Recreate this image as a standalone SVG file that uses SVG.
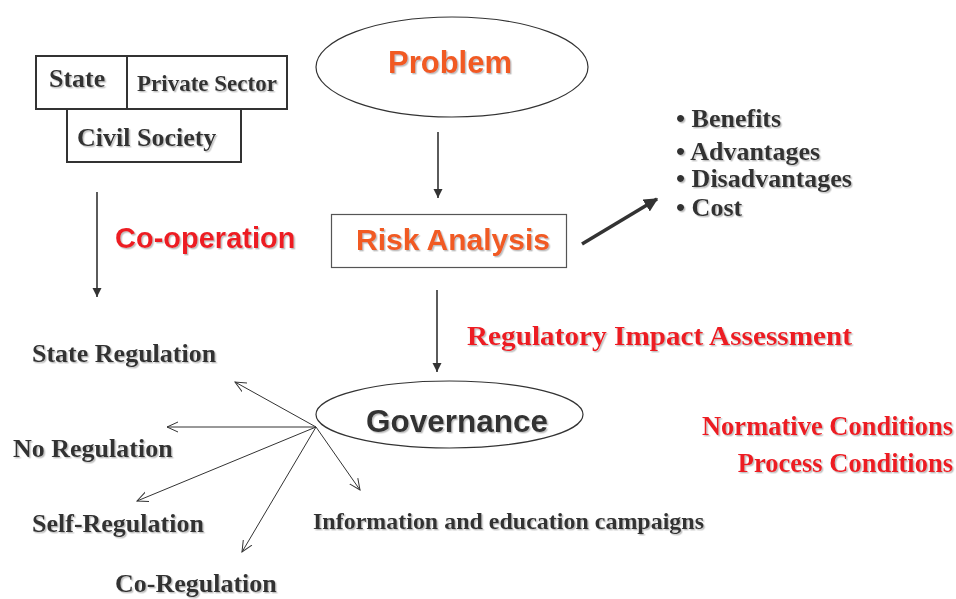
<svg xmlns="http://www.w3.org/2000/svg" width="956" height="599" viewBox="0 0 956 599">
<style>
.serif{font-family:"Liberation Serif","Times New Roman",serif;font-weight:bold;}
.sans{font-family:"Liberation Sans",Arial,sans-serif;font-weight:bold;}
.dark{fill:#333333;}
.red{fill:#ED1C24;}
.orange{fill:#F15A22;}
.sh{filter:url(#shadow);}
.box{fill:#ffffff;stroke:#333333;stroke-width:2;}
.ell{fill:#ffffff;stroke:#333333;stroke-width:1.2;}
.line{stroke:#333333;stroke-width:1.6;fill:none;}
.thin{stroke:#333333;stroke-width:1;fill:none;}
</style>
<defs>
<filter id="shadow" x="-5%" y="-20%" width="110%" height="150%">
<feDropShadow dx="1.4" dy="1.4" stdDeviation="0.5" flood-color="#aaaaaa" flood-opacity="0.75"/>
</filter>
<marker id="solid" viewBox="0 0 10 10" refX="10" refY="5" markerWidth="9" markerHeight="11" markerUnits="userSpaceOnUse" orient="auto">
<path d="M0,0 L10,5 L0,10 Z" fill="#333333"/>
</marker>
<marker id="thick" viewBox="0 0 10 10" refX="9" refY="5" markerWidth="14" markerHeight="14" markerUnits="userSpaceOnUse" orient="auto">
<path d="M0,0 L10,5 L0,10 Z" fill="#333333"/>
</marker>
<marker id="open" viewBox="0 0 12 12" refX="11" refY="6" markerWidth="12" markerHeight="12" markerUnits="userSpaceOnUse" orient="auto">
<path d="M0,1 L11,6 L0,11" fill="none" stroke="#333333" stroke-width="1"/>
</marker>
</defs>

<g id="actors">
<rect class="box" x="36" y="56" width="91" height="53"/>
<rect class="box" x="127" y="56" width="160" height="53"/>
<rect class="box" x="67" y="109" width="174" height="53"/>
<text class="serif dark sh" x="49" y="87" font-size="26">State</text>
<text class="serif dark sh" x="137" y="91" font-size="23">Private Sector</text>
<text class="serif dark sh" x="77" y="146" font-size="26">Civil Society</text>
</g>

<g id="problem">
<ellipse class="ell" cx="452" cy="67" rx="136" ry="50"/>
<text class="sans orange sh" x="450" y="73" font-size="31" text-anchor="middle">Problem</text>
</g>

<g id="risk-analysis">
<rect x="331.5" y="214.5" width="235" height="53" fill="#ffffff" stroke="#555555" stroke-width="1.2"/>
<text class="sans orange sh" x="453" y="250" font-size="30" text-anchor="middle">Risk Analysis</text>
</g>

<g id="criteria">
<text class="serif dark sh" x="676" y="127" font-size="26">• Benefits</text>
<text class="serif dark sh" x="676" y="160" font-size="26">• Advantages</text>
<text class="serif dark sh" x="676" y="187" font-size="26">• Disadvantages</text>
<text class="serif dark sh" x="676" y="216" font-size="26">• Cost</text>
</g>

<g id="cooperation">
<text class="sans red sh" x="115" y="248" font-size="29">Co-operation</text>
</g>

<g id="ria">
<text class="serif red sh" x="467" y="345" font-size="28" textLength="385" lengthAdjust="spacingAndGlyphs">Regulatory Impact Assessment</text>
</g>

<g id="governance">
<ellipse class="ell" cx="449.5" cy="414.5" rx="133.5" ry="33.5"/>
<text class="sans dark sh" x="457" y="432" font-size="31.5" text-anchor="middle">Governance</text>
</g>

<g id="conditions">
<text class="serif red sh" x="953" y="435" font-size="26.5" text-anchor="end">Normative Conditions</text>
<text class="serif red sh" x="953" y="472" font-size="26.5" text-anchor="end">Process Conditions</text>
</g>

<g id="instruments">
<text class="serif dark sh" x="32" y="362" font-size="26">State Regulation</text>
<text class="serif dark sh" x="13" y="457" font-size="26">No Regulation</text>
<text class="serif dark sh" x="32" y="532" font-size="26">Self-Regulation</text>
<text class="serif dark sh" x="115" y="592" font-size="26">Co-Regulation</text>
<text class="serif dark sh" x="313" y="529" font-size="23.5" textLength="391" lengthAdjust="spacingAndGlyphs">Information and education campaigns</text>
</g>

<g id="connectors">
<line class="line" x1="97" y1="192" x2="97" y2="297" marker-end="url(#solid)"/>
<line class="line" x1="438" y1="132" x2="438" y2="198" marker-end="url(#solid)"/>
<line class="line" x1="437" y1="290" x2="437" y2="372" marker-end="url(#solid)"/>
<line stroke="#333333" stroke-width="3.5" x1="582" y1="244" x2="657" y2="199" marker-end="url(#thick)"/>
<line class="thin" x1="316" y1="427" x2="235" y2="382" marker-end="url(#open)"/>
<line class="thin" x1="316" y1="427" x2="167" y2="427" marker-end="url(#open)"/>
<line class="thin" x1="316" y1="427" x2="137" y2="501" marker-end="url(#open)"/>
<line class="thin" x1="316" y1="427" x2="242" y2="552" marker-end="url(#open)"/>
<line class="thin" x1="316" y1="427" x2="360" y2="490" marker-end="url(#open)"/>
</g>
</svg>
